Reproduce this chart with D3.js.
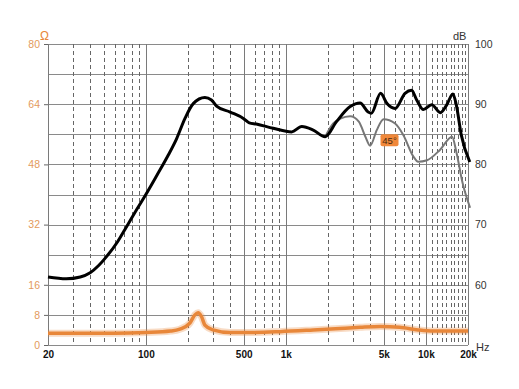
<!DOCTYPE html>
<html>
<head>
<meta charset="utf-8">
<script src="https://cdn.jsdelivr.net/npm/d3@7"></script>
<style>
  body { margin: 0; background: #fff; }
  svg { font-family: "Liberation Sans", Arial, sans-serif; }
</style>
</head>
<body>
<div class="chart"></div>
<script>
// Frequenzgang + Impedanz

var splFreq = [20, 27, 34, 40, 46, 52, 63, 73, 86, 100, 120, 145, 166, 190, 218, 264, 294, 320, 400, 500, 548, 615, 812, 1100, 1300, 1570, 1910, 2300, 2880, 3390, 3870, 4080, 4750, 5280, 6030, 7100, 7900, 8600, 9600, 11000, 12700, 14100, 15600, 16500, 17900, 20600];
var splDb = [61.3, 61.0, 61.3, 62.0, 63.2, 64.6, 67.2, 69.7, 72.5, 75.0, 78.2, 81.6, 84.3, 87.6, 90.1, 91.1, 90.7, 89.7, 88.7, 87.6, 86.9, 86.7, 86.0, 85.4, 86.3, 85.7, 84.6, 87.1, 89.6, 90.2, 88.7, 88.5, 91.8, 90.1, 89.3, 91.8, 92.3, 90.7, 89.1, 89.9, 88.6, 89.9, 91.7, 89.9, 84.9, 80.4];

var offFreq = [1910, 2180, 2450, 2880, 3320, 3700, 4000, 4460, 4990, 6030, 6900, 8150, 8800, 10200, 12600, 15400, 16500, 18300, 20700];
var offDb = [84.6, 86.8, 87.6, 88.0, 87.1, 84.6, 83.1, 85.7, 87.5, 86.8, 84.9, 81.3, 80.45, 80.7, 82.4, 84.6, 82.1, 76.9, 72.8];

var impFreq = [20, 60, 100, 150, 175, 206, 224, 236, 250, 264, 302, 398, 530, 906, 1570, 2440, 3400, 4730, 6500, 8800, 11300, 20000];
var impOhm = [3.1, 3.1, 3.3, 3.7, 4.2, 5.8, 8.0, 8.6, 7.5, 5.3, 4.0, 3.3, 3.3, 3.55, 4.0, 4.4, 4.7, 4.9, 4.7, 4.0, 3.7, 3.7];

var ohmTicks = [0, 8, 16, 32, 48, 64, 80];
var ohmGrid = [0, 8, 16, 24, 32, 40, 48, 56, 64, 72, 80];
var dbTicks = [60, 70, 80, 90, 100];
var hzTicks = [20, 100, 500, 1000, 5000, 10000, 20000];
var hzLabels = ['20', '100', '500', '1k', '5k', '10k', '20k'];
var hzMinor = [30, 40, 50, 60, 70, 80, 90, 200, 300, 400, 600, 700, 800, 900, 2000, 3000, 4000, 6000, 7000, 8000, 9000,
               11000, 12000, 13000, 14000, 15000, 16000, 17000, 18000, 19000];

var svg_width = 519,
    svg_height = 389,
    svg = d3.select('.chart').append('svg').attr('width', svg_width).attr('height', svg_height),
    margin = {top: 44, right: 51, bottom: 44, left: 48},
    width = svg_width - margin.left - margin.right,
    height = svg_height - margin.top - margin.bottom;

var g = svg.append('g').attr('transform', 'translate(' + margin.left + ',' + margin.top + ')');

var x = d3.scaleLog().domain([20, 20000]).range([0, width]);
var yOhm = d3.scaleLinear().domain([0, 80]).range([height, 0]);
var yDb = d3.scaleLinear().domain([50, 100]).range([height, 0]);

var orange = '#e8873a';

// gitter
g.selectAll('.hgrid').data(ohmGrid).enter().append('line')
  .attr('x1', 0).attr('x2', width)
  .attr('y1', function(d) { return Math.round(yOhm(d)) + 0.5; }).attr('y2', function(d) { return Math.round(yOhm(d)) + 0.5; })
  .attr('stroke', '#8a8a8a').attr('stroke-width', 1);

g.selectAll('.vminor').data(hzMinor).enter().append('line')
  .attr('x1', function(d) { return Math.round(x(d)) + 0.5; }).attr('x2', function(d) { return Math.round(x(d)) + 0.5; })
  .attr('y1', 0).attr('y2', height)
  .attr('stroke', '#666').attr('stroke-width', 1).attr('stroke-dasharray', '4,3');

g.selectAll('.vmajor').data(hzTicks).enter().append('line')
  .attr('x1', function(d) { return Math.round(x(d)) + 0.5; }).attr('x2', function(d) { return Math.round(x(d)) + 0.5; })
  .attr('y1', 0).attr('y2', height)
  .attr('stroke', '#7a7a7a').attr('stroke-width', 1);

// achsen
var axL = g.append('g').call(d3.axisLeft(yOhm).tickValues(ohmTicks).tickSize(4).tickPadding(4));
axL.select('.domain').remove();
axL.selectAll('line').attr('stroke', '#666');
axL.selectAll('text').attr('fill', '#e39a5c').attr('font-size', 10.5);

var axR = g.append('g').attr('transform', 'translate(' + width + ',0)')
  .call(d3.axisRight(yDb).tickValues(dbTicks).tickSize(0).tickPadding(7));
axR.select('.domain').remove();
axR.selectAll('text').attr('fill', '#333').attr('font-size', 10.5);

var axB = g.append('g').attr('transform', 'translate(0,' + height + ')')
  .call(d3.axisBottom(x).tickValues(hzTicks).tickFormat(function(d, i) { return hzLabels[i]; }).tickSize(0).tickPadding(6));
axB.select('.domain').remove();
axB.selectAll('text').attr('fill', '#111').attr('font-size', 10).attr('font-weight', 'bold');

svg.append('text').attr('x', 40).attr('y', 40).text('Ω').attr('fill', orange).attr('font-size', 12);
svg.append('text').attr('x', 453).attr('y', 40).text('dB').attr('fill', '#333').attr('font-size', 11);
svg.append('text').attr('x', 476).attr('y', 351).text('Hz').attr('fill', '#333').attr('font-size', 11);

// kurven
var lineSpl = d3.line().curve(d3.curveMonotoneX)
  .x(function(d, i) { return x(splFreq[i]); }).y(function(d) { return yDb(d); });
var lineOff = d3.line().curve(d3.curveMonotoneX)
  .x(function(d, i) { return x(offFreq[i]); }).y(function(d) { return yDb(d); });
var lineImp = d3.line().curve(d3.curveMonotoneX)
  .x(function(d, i) { return x(impFreq[i]); }).y(function(d) { return yOhm(d); });

g.append('path').datum(impOhm).attr('d', lineImp)
  .attr('fill', 'none').attr('stroke', orange).attr('stroke-opacity', 0.3).attr('stroke-width', 7);
g.append('path').datum(impOhm).attr('d', lineImp)
  .attr('fill', 'none').attr('stroke', orange).attr('stroke-width', 3.5);

g.append('path').datum(offDb).attr('d', lineOff)
  .attr('fill', 'none').attr('stroke', '#777').attr('stroke-width', 2);

g.append('path').datum(splDb).attr('d', lineSpl)
  .attr('fill', 'none').attr('stroke', '#000').attr('stroke-width', 3).attr('stroke-linejoin', 'round');

// 45° label
var lx = x(5500), ly = yDb(84);
g.append('rect').attr('x', lx - 9).attr('y', ly - 6).attr('width', 18).attr('height', 12).attr('rx', 2)
  .attr('fill', '#f0883a');
g.append('text').attr('x', lx).attr('y', ly + 3.5).attr('text-anchor', 'middle')
  .attr('font-size', 9.5).attr('fill', '#4a2a10').text('45°');
</script>
</body>
</html>
